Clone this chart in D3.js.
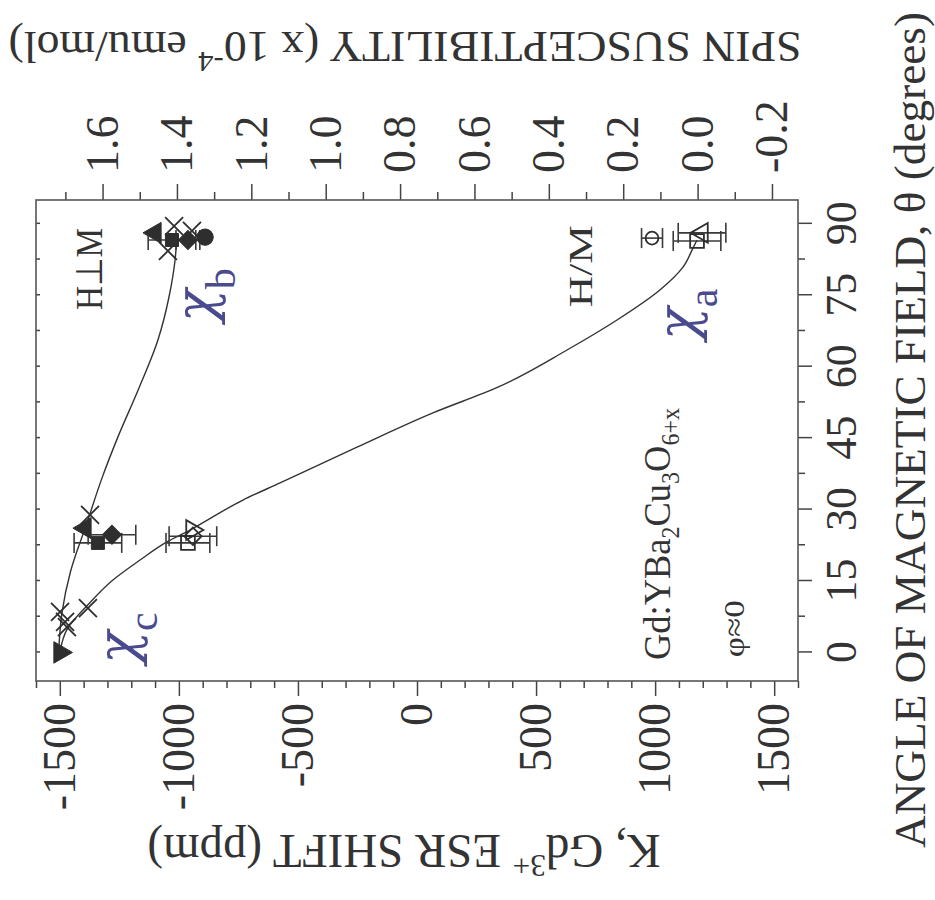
<!DOCTYPE html>
<html>
<head>
<meta charset="utf-8">
<script src="https://cdn.jsdelivr.net/npm/d3@7"></script>
<style>
  body { margin: 0; background: #fff; }
  svg { display: block; }
  text { font-family: "Liberation Serif", "Times New Roman", serif; fill: #333; }
</style>
</head>
<body>
<svg id="chart" width="935" height="900"></svg>
<script>
// ---- axis tick values ----
const angleTicks = [0, 15, 30, 45, 60, 75, 90];
const angleMinor = [7.5, 22.5, 37.5, 52.5, 67.5, 82.5];
const shiftTicks = [-1500, -1000, -500, 0, 500, 1000, 1500];
const suscTicks = [1.6, 1.4, 1.2, 1.0, 0.8, 0.6, 0.4, 0.2, 0.0, -0.2];
const suscMinor = [1.7, 1.5, 1.3, 1.1, 0.9, 0.7, 0.5, 0.3, 0.1, -0.1];

// ---- angular dependence of the shift, [theta (deg), K (ppm)] ----
const curveAC = [[0, -1500], [5, -1468], [10, -1382], [15.2, -1277], [19.4, -1163], [23.2, -1050],
  [25.7, -953], [32, -731], [35.6, -575], [43.1, -252], [50.3, 67], [55.7, 340], [63.5, 630],
  [69.8, 840], [76.1, 1020], [80.9, 1117], [84.9, 1159], [86.6, 1176]];
const curveBC = [[0, -1505], [8.3, -1491], [17, -1455], [27.2, -1386], [36.6, -1323], [45, -1258],
  [55, -1172], [65.6, -1088], [75, -1040], [82.4, -1016], [87.7, -1008]];

// ---- measured shifts: t = theta (deg), k = K (ppm), e = error (ppm) ----
const filledUp = [{t: 88.1, k: -1100, e: 0}, {t: 26.1, k: -1394, e: 0}];
const filledDown = [{t: 0, k: -1499, e: 0}];
const filledSquare = [{t: 86.6, k: -1029, e: 100}, {t: 23.0, k: -1340, e: 100}];
const filledDiamond = [{t: 86.6, k: -962, e: 50}, {t: 24.7, k: -1281, e: 100}];
const filledCircle = [{t: 87.2, k: -890, e: 0}];
const crossPts = [{t: 89.5, k: -1020, e: 0}, {t: 84.3, k: -1046, e: 0}, {t: 88.5, k: -945, e: 0},
  {t: 28.9, k: -1373, e: 0}, {t: 8.5, k: -1499, e: 0}, {t: 6.4, k: -1478, e: 0},
  {t: 5.3, k: -1470, e: 0}, {t: 9.3, k: -1382, e: 0}];
const openSquare = [{t: 23.0, k: -962, e: 92}, {t: 86.4, k: 1176, e: 100}];
const openDiamond = [{t: 24.4, k: -941, e: 100}];
const openDown = [{t: 25.7, k: -945, e: 0}];
const openUp = [{t: 88.1, k: 1197, e: 100}];
const openCircle = [{t: 87.0, k: 987, e: 44}];

// ---- layout: the plot is drawn in its own frame, then turned a quarter turn ----
const svg = d3.select("#chart");
const plotW = 481, plotH = 762;
const plot = svg.append("g").attr("transform", "translate(36,681) rotate(-90)");

const x = d3.scaleLinear().domain([-6, 95]).range([0, plotW]);          // theta
const y = d3.scaleLinear().domain([-1600, 1600]).range([0, plotH]);     // ESR shift
const y2 = d3.scaleLinear().domain([1.779, -0.27]).range([0, plotH]);   // susceptibility

const ink = "#333";
const blue = "#4a4a8e";

function styleAxis(g, fs) {
  g.attr("font-family", null).attr("font-size", fs).attr("color", ink);
  g.select(".domain").remove();
  g.selectAll("line").attr("stroke", "#444").attr("stroke-width", 1.5);
  g.selectAll("text").attr("fill", ink);
}

// ESR shift axis
plot.append("g").call(d3.axisLeft(y).tickValues(d3.range(-1600, 1601, 100).filter(v => v % 500 !== 0))
  .tickSize(7).tickFormat("")).call(g => styleAxis(g, 46));
plot.append("g").call(d3.axisLeft(y).tickValues(shiftTicks).tickSize(15).tickPadding(7)
  .tickFormat(d => String(d))).call(g => styleAxis(g, 46));

// angle axis
plot.append("g").attr("transform", `translate(0,${plotH})`)
  .call(d3.axisBottom(x).tickValues(angleMinor).tickSize(7).tickFormat("")).call(g => styleAxis(g, 44));
plot.append("g").attr("transform", `translate(0,${plotH})`)
  .call(d3.axisBottom(x).tickValues(angleTicks).tickSize(14).tickPadding(13)
  .tickFormat(d => String(d))).call(g => styleAxis(g, 44));

// inner ticks on the opposite edge
plot.append("g")
  .call(d3.axisTop(x).tickValues(angleTicks.concat(angleMinor)).tickSize(-4).tickFormat(""))
  .call(g => styleAxis(g, 10));

// susceptibility axis
plot.append("g").attr("transform", `translate(${plotW},0)`)
  .call(d3.axisRight(y2).tickValues(suscMinor).tickSize(8).tickFormat("")).call(g => styleAxis(g, 46));
plot.append("g").attr("transform", `translate(${plotW},0)`)
  .call(d3.axisRight(y2).tickValues(suscTicks).tickSize(16).tickPadding(11)
  .tickFormat(d => d.toFixed(1))).call(g => styleAxis(g, 46));

// frame
plot.append("rect").attr("width", plotW).attr("height", plotH)
  .attr("fill", "none").attr("stroke", "#555").attr("stroke-width", 1.6);

// curves
const line = d3.line().x(d => x(d[0])).y(d => y(d[1])).curve(d3.curveMonotoneX);
[curveAC, curveBC].forEach(c => plot.append("path").attr("d", line(c))
  .attr("fill", "none").attr("stroke", ink).attr("stroke-width", 1.4));

// symbol shapes
const crossPath = "M-9,-9L9,9M-9,9L9,-9";
const series = [
  {data: openSquare, path: d3.symbol(d3.symbolSquare, 190)(), fill: false, rot: 0},
  {data: openDiamond, path: d3.symbol(d3.symbolSquare, 150)(), fill: false, rot: 45},
  {data: openDown, path: d3.symbol(d3.symbolTriangle, 170)(), fill: false, rot: 180},
  {data: openUp, path: d3.symbol(d3.symbolTriangle, 170)(), fill: false, rot: 0},
  {data: openCircle, path: d3.symbol(d3.symbolCircle, 130)(), fill: false, rot: 0},
  {data: filledSquare, path: d3.symbol(d3.symbolSquare, 170)(), fill: true, rot: 0},
  {data: filledDiamond, path: d3.symbol(d3.symbolSquare, 180)(), fill: true, rot: 45},
  {data: filledCircle, path: d3.symbol(d3.symbolCircle, 210)(), fill: true, rot: 0},
  {data: filledUp, path: d3.symbol(d3.symbolTriangle, 190)(), fill: true, rot: 0},
  {data: filledDown, path: d3.symbol(d3.symbolTriangle, 200)(), fill: true, rot: 180},
  {data: crossPts, path: crossPath, fill: false, rot: 0}
];

// error bars
const errG = plot.append("g").attr("stroke", "#3a3a3a").attr("stroke-width", 1.6);
series.forEach(s => s.data.filter(d => d.e > 0).forEach(d => {
  const cx = x(d.t), lo = y(d.k - d.e), hi = y(d.k + d.e);
  errG.append("line").attr("x1", cx).attr("x2", cx).attr("y1", lo).attr("y2", hi);
  [lo, hi].forEach(v => errG.append("line").attr("x1", cx - 10).attr("x2", cx + 10).attr("y1", v).attr("y2", v));
}));

// markers
series.forEach(s => {
  plot.append("g").selectAll("path").data(s.data).join("path")
    .attr("d", s.path)
    .attr("transform", d => `translate(${x(d.t)},${y(d.k)}) rotate(${s.rot})`)
    .attr("fill", s.fill ? "#2e2e2e" : "none")
    .attr("stroke", "#2e2e2e")
    .attr("stroke-width", s.fill ? 1 : 1.8);
});

// annotations
function chi(t, k, sub) {
  const tx = plot.append("text").attr("transform", `translate(${x(t)},${y(k)})`)
    .attr("fill", blue).style("fill", blue).attr("font-size", 54);
  tx.append("tspan").style("font-family", "'DejaVu Serif', serif").attr("font-style", "italic").text("χ");
  tx.append("tspan").attr("font-size", 42).attr("dy", 21).text(sub);
}
chi(69.4, -852, "b");
chi(65.6, 1172, "a");
chi(-2.4, -1180, "c");

plot.append("text").attr("transform", `translate(${x(71.9)},${y(-1323)})`)
  .attr("font-size", 37).attr("textLength", 82).attr("lengthAdjust", "spacingAndGlyphs").text("H⊥M");
plot.append("text").attr("transform", `translate(${x(72.5)},${y(735)})`)
  .attr("font-size", 34).attr("textLength", 82).attr("lengthAdjust", "spacingAndGlyphs").text("H/M");

const formula = plot.append("text").attr("transform", `translate(${x(-1.6)},${y(1062)})`)
  .attr("font-size", 38).attr("textLength", 252).attr("lengthAdjust", "spacingAndGlyphs");
formula.append("tspan").text("Gd:YBa");
formula.append("tspan").attr("font-size", 25).attr("dy", 9).text("2");
formula.append("tspan").attr("dy", -9).text("Cu");
formula.append("tspan").attr("font-size", 25).attr("dy", 9).text("3");
formula.append("tspan").attr("dy", -9).text("O");
formula.append("tspan").attr("font-size", 25).attr("dy", 9).text("6+x");

plot.append("text").attr("transform", `translate(${x(-1.0)},${y(1373)})`)
  .attr("font-size", 30).attr("textLength", 57).attr("lengthAdjust", "spacingAndGlyphs").text("φ≈0");

// axis titles
const tK = plot.append("text").attr("transform", "translate(-154,368) rotate(-90)")
  .attr("text-anchor", "middle").attr("font-size", 48)
  .attr("textLength", 513).attr("lengthAdjust", "spacingAndGlyphs");
tK.append("tspan").text("K, Gd");
tK.append("tspan").attr("font-size", 32).attr("dy", -20).text("3+");
tK.append("tspan").attr("dy", 20).text(" ESR SHIFT (ppm)");

const tS = plot.append("text").attr("transform", "translate(649,369) rotate(-90)")
  .attr("text-anchor", "middle").attr("font-size", 45)
  .attr("textLength", 793).attr("lengthAdjust", "spacingAndGlyphs");
tS.append("tspan").text("SPIN SUSCEPTIBILITY (x 10");
tS.append("tspan").attr("font-size", 30).attr("dy", -20).text("-4");
tS.append("tspan").attr("dy", 20).text(" emu/mol)");

plot.append("text").attr("transform", "translate(251,889)")
  .attr("text-anchor", "middle").attr("font-size", 45)
  .attr("textLength", 836).attr("lengthAdjust", "spacingAndGlyphs")
  .text("ANGLE OF MAGNETIC FIELD, θ (degrees)");
</script>
</body>
</html>
